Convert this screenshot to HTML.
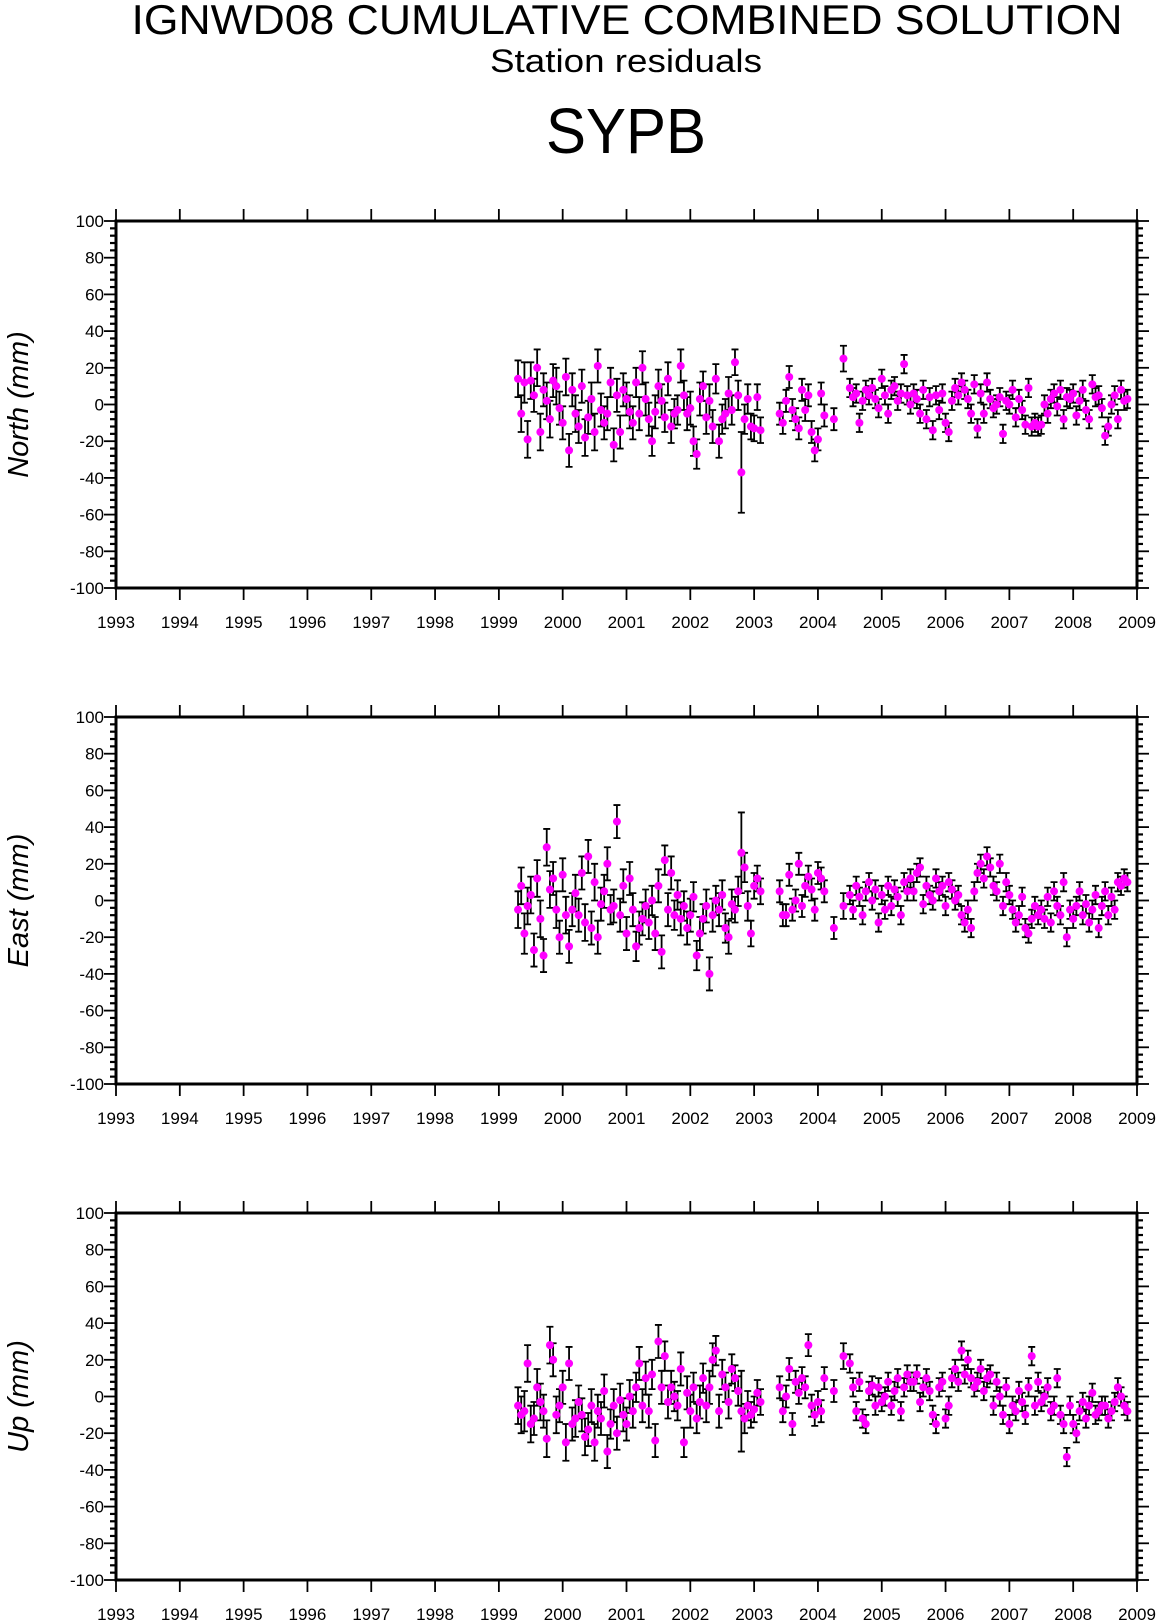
<!DOCTYPE html>
<html><head><meta charset="utf-8"><style>
html,body{margin:0;padding:0;background:#fff;}
svg{display:block;font-family:"Liberation Sans",sans-serif;}
</style></head><body>
<svg id="chart" width="1160" height="1621" viewBox="0 0 1160 1621" xmlns="http://www.w3.org/2000/svg">
<text x="627" y="34" font-size="42" text-anchor="middle" textLength="991" lengthAdjust="spacingAndGlyphs">IGNWD08 CUMULATIVE COMBINED SOLUTION</text>
<text x="626" y="72" font-size="32" text-anchor="middle" textLength="272" lengthAdjust="spacingAndGlyphs">Station residuals</text>
<text x="626" y="153" font-size="64" text-anchor="middle" textLength="160" lengthAdjust="spacingAndGlyphs">SYPB</text>
</svg>
<script>
const times = [1999.30,1999.35,1999.40,1999.45,1999.50,1999.55,1999.60,1999.65,1999.70,1999.75,
1999.80,1999.85,1999.90,1999.95,2000.00,2000.05,2000.10,2000.15,2000.20,2000.25,
2000.30,2000.35,2000.40,2000.45,2000.50,2000.55,2000.60,2000.65,2000.70,2000.75,
2000.80,2000.85,2000.90,2000.95,2001.00,2001.05,2001.10,2001.15,2001.20,2001.25,
2001.30,2001.35,2001.40,2001.45,2001.50,2001.55,2001.60,2001.65,2001.70,2001.75,
2001.80,2001.85,2001.90,2001.95,2002.00,2002.05,2002.10,2002.15,2002.20,2002.25,
2002.30,2002.35,2002.40,2002.45,2002.50,2002.55,2002.60,2002.65,2002.70,2002.75,
2002.80,2002.85,2002.90,2002.95,2003.00,2003.05,2003.10,
2003.40,2003.45,2003.50,2003.55,2003.60,2003.65,2003.70,2003.75,2003.80,2003.85,2003.90,2003.95,2004.00,2004.05,2004.10,
2004.25,2004.40,
2004.50,2004.55,2004.60,2004.65,2004.70,2004.75,2004.80,2004.85,2004.90,2004.95,
2005.00,2005.05,2005.10,2005.15,2005.20,2005.25,2005.30,2005.35,2005.40,2005.45,
2005.50,2005.55,2005.60,2005.65,2005.70,2005.75,2005.80,2005.85,2005.90,2005.95,
2006.00,2006.05,2006.10,2006.15,2006.20,2006.25,2006.30,2006.35,2006.40,2006.45,
2006.50,2006.55,2006.60,2006.65,2006.70,2006.75,2006.80,2006.85,2006.90,2006.95,
2007.00,2007.05,2007.10,2007.15,2007.20,2007.25,2007.30,2007.35,2007.40,2007.45,
2007.50,2007.55,2007.60,2007.65,2007.70,2007.75,2007.80,2007.85,2007.90,2007.95,
2008.00,2008.05,2008.10,2008.15,2008.20,2008.25,2008.30,2008.35,2008.40,2008.45,
2008.50,2008.55,2008.60,2008.65,2008.70,2008.75,2008.80,2008.85];
const sigma = [10,10,11,10,10,9,10,10,9,10, 10,9,10,9,9,10,9,9,10,9, 9,10,9,9,10,9,9,9,9,8,
9,9,9,9,9,9,9,8,9,9, 9,9,8,9,9,9,8,9,9,8, 8,9,8,9,9,8,8,9,8,9, 9,9,8,9,8,8,9,8,7,8,
22,8,8,7,7,7,7,
6,6,6,6,6,6,6,6,6,6,6,6,6,6,6,
6,7,
5,5,5,5,5,5,5,5,5,5, 5,5,5,5,5,5,5,5,5,5, 5,5,5,5,5,5,5,5,5,5, 5,5,5,5,5,5,5,5,5,5,
5,5,5,5,5,5,5,5,5,5, 5,5,5,5,5,5,5,5,5,5, 5,5,5,5,5,5,5,5,5,5, 5,5,5,5,5,5,5,5,5,5,
5,5,5,5,5,5,5,5];
const northValues = [14,-5,12,-19,13,5,20,-15,8,2, -8,13,10,-2,-10,15,-25,8,-5,-12, 10,-18,-7,3,-15,21,-3,-10,-5,12,
-22,5,-15,8,3,-4,-10,12,-5,20, 3,-8,-20,-4,10,2,-7,14,-12,-5, -3,21,5,-5,-2,-20,-27,3,10,-7,
2,-12,14,-20,-8,-5,6,-3,23,5, -37,-8,3,-12,-13,4,-14,
-5,-10,2,15,-3,-8,-13,8,-3,5,-15,-25,-19,6,-6,
-8,25,
9,4,6,-10,2,8,5,9,3,-2, 14,5,-5,8,10,2,6,22,5,0, 6,3,-5,8,-8,4,-14,5,-3,6, -10,-15,2,9,5,12,8,3,-5,11,
-13,6,-5,12,3,-2,0,4,-16,2, 0,8,-7,3,-3,-11,9,-12,-10,-12, -11,0,-5,3,6,-1,8,-8,4,3, 6,-6,2,8,-3,-8,11,4,5,-2,
-17,-12,0,5,-8,8,2,3];
const eastValues = [-5,8,-18,-3,3,-27,12,-10,-30,29, 6,12,-5,-20,14,-8,-25,-5,4,-8, 15,-12,24,-15,10,-20,-2,5,20,-5,
-3,43,-8,8,-18,12,-5,-25,-15,-10, -3,-12,0,-18,8,-28,22,-5,15,-8, 3,-10,-3,-15,-8,2,-30,-18,-10,-3,
-40,-8,0,-5,3,-15,-20,-2,-5,5, 26,18,-3,-18,8,12,5,
5,-8,-8,14,-5,0,20,-3,8,13,6,-5,15,12,5,
-15,-3,
3,-5,8,2,-8,5,10,0,6,-12, 3,-5,8,-3,6,2,-8,10,5,12, 5,15,18,-2,8,3,0,12,5,8, -3,10,6,0,3,-8,-12,-5,-15,5,
15,20,12,24,18,8,5,20,-3,10, 3,-5,-12,-8,2,-15,-18,-10,-3,-8, -5,-10,2,-12,5,-3,-8,10,-20,-5, -10,-3,5,-8,-2,-12,-5,3,-15,-3,
5,-8,2,-5,10,8,12,10];
const upValues = [-5,-10,-8,18,-15,-12,5,-3,-8,-23, 28,20,-10,-5,5,-25,18,-15,-12,-3, -10,-22,-18,-5,-25,-8,-12,3,-30,-15,
-5,-20,-2,-10,-15,0,-8,5,18,-5, 10,-8,12,-24,30,5,22,-3,5,0, -5,15,-25,2,-8,5,-12,-3,10,-5,
5,20,25,-8,12,5,-3,15,10,3, -8,-12,-5,-10,-7,2,-3,
5,-8,0,15,-15,8,2,10,5,28,-5,-10,-3,-8,10,
3,22,
18,5,-8,8,-12,-15,3,6,-5,5, -3,0,8,-5,3,10,-8,5,12,8, 8,12,-3,5,10,3,-10,-15,5,8, -12,-5,10,15,8,25,12,20,10,5,
8,15,3,10,12,-5,8,0,-10,5, -15,-5,-8,3,-3,-10,5,22,-5,8, -3,0,5,-8,-5,10,-10,-15,-33,-5, -15,-20,-8,-3,-12,-5,2,-10,-8,-5,
-5,-12,-8,-3,5,0,-5,-8];
const yearTicks = [1993,1994,1995,1996,1997,1998,1999,2000,2001,2002,2003,2004,2005,2006,2007,2008,2009];
const yTicks = [100,80,60,40,20,0,-20,-40,-60,-80,-100];
const panelNames = ["north","east","up"];
const panelTitles = ["North (mm)","East (mm)","Up (mm)"];

const NS="http://www.w3.org/2000/svg";
const svg=document.getElementById('chart');
const L=116,R=1137,H=367,TOPS=[221,717,1213];
function mk(tag,attrs,parent){const e=document.createElementNS(NS,tag);for(const k in attrs)e.setAttribute(k,attrs[k]);(parent||svg).appendChild(e);return e;}
function xS(t){return L+(t-1993)/(2009-1993)*(R-L);}
function panel(idx,vals){
  const top=TOPS[idx];
  const yS=v=>top+(100-v)/200*H;
  const g=mk('g',{});
  
  
  for(const y of yearTicks){
    const x=xS(y);
    const t1=mk('line',{x1:x,x2:x,y1:top-12,y2:top,stroke:'#000','stroke-width':1.8},g);
    
    
    const t2=mk('line',{x1:x,x2:x,y1:top+H,y2:top+H+12,stroke:'#000','stroke-width':1.8},g);
    
    
    const lb=mk('text',{x:x,y:top+H+40,'font-size':17,'text-anchor':'middle'},g);
    lb.textContent=y;
    
    
  }
  for(let v=-100;v<=100;v+=4){
    const y=yS(v);const major=(v%20===0);const len=major?12:6;
    const a=mk('line',{x1:L-len,x2:L,y1:y,y2:y,stroke:'#000','stroke-width':major?1.8:2.2},g);
    
    
    const b=mk('line',{x1:R,x2:R+len,y1:y,y2:y,stroke:'#000','stroke-width':major?1.8:2.2},g);
    
    
  }
  for(const v of yTicks){
    const lb=mk('text',{x:104,y:yS(v)+6,'font-size':17,'text-anchor':'end'},g);
    lb.textContent=v;
    
    
  }
  const fr=mk('rect',{x:L,y:top,width:R-L,height:H,fill:'none',stroke:'#000','stroke-width':3},g);
  
  
  const tt=mk('text',{x:0,y:0,'font-size':29,'font-style':'italic','text-anchor':'middle',transform:`translate(28,${top+H/2}) rotate(-90)`},g);
  tt.textContent=panelTitles[idx];
  
  
  const eg=mk('g',{stroke:'#000','stroke-width':1.8},g);
  
  
  for(let i=0;i<times.length;i++){
    const x=xS(times[i]),y1=yS(vals[i]+sigma[i]),y2=yS(vals[i]-sigma[i]);
    const p=mk('path',{d:`M${x},${y1}V${y2}M${x-3.5},${y1}H${x+3.5}M${x-3.5},${y2}H${x+3.5}`,fill:'none'},eg);
    
    
  }
  const pg=mk('g',{fill:'#ff00ff'},g);
  
  
  for(let i=0;i<times.length;i++){
    const c=mk('circle',{cx:xS(times[i]),cy:yS(vals[i]),r:4},pg);
    
    
  }
}
panel(0,northValues);
panel(1,eastValues);
panel(2,upValues);
</script>
</body></html>
